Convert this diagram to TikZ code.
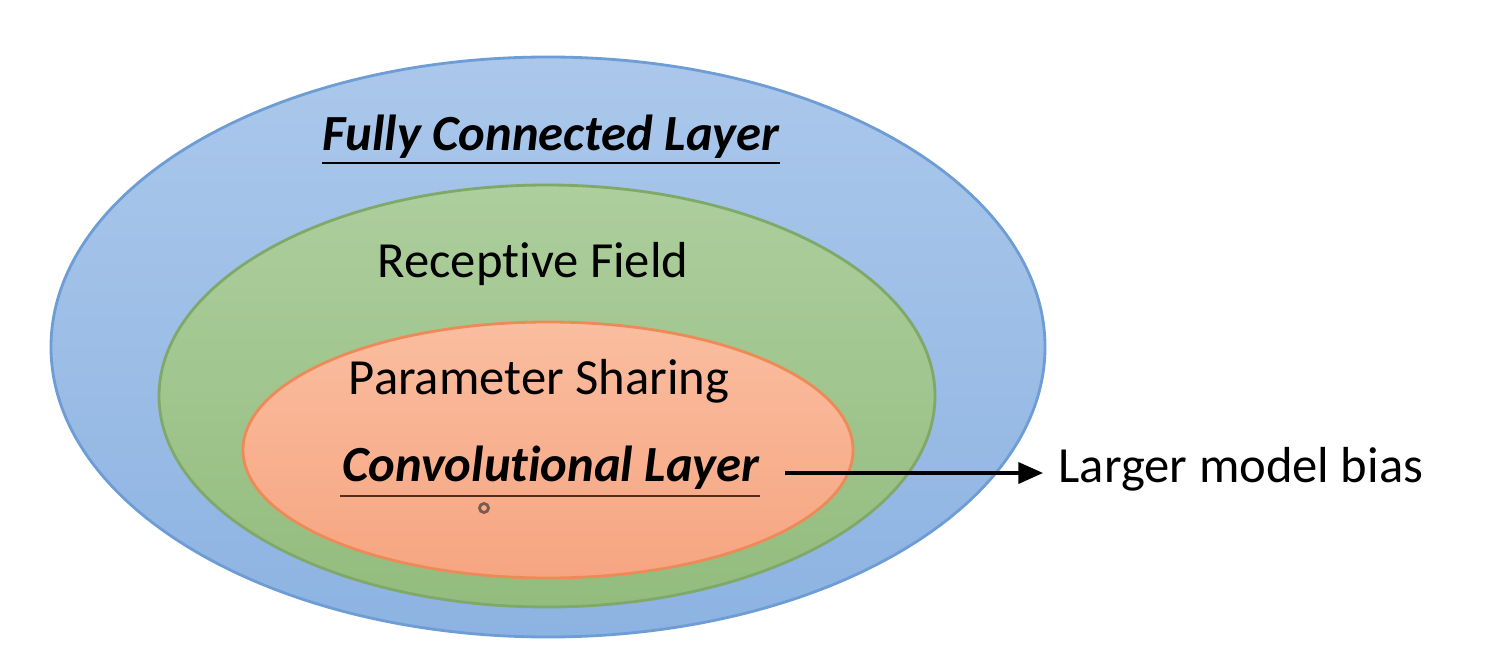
\documentclass[tikz,border=0pt]{standalone}
\usepackage{fontspec}
\setmainfont{Carlito}[Ligatures={NoCommon}]
\usetikzlibrary{arrows.meta}
\definecolor{bluetop}{HTML}{ABC8EB}
\definecolor{bluebot}{HTML}{8DB3E2}
\definecolor{blueline}{HTML}{6E9DD6}
\definecolor{greentop}{HTML}{ADCE9D}
\definecolor{greenbot}{HTML}{93BC7E}
\definecolor{greenline}{HTML}{7FA968}
\definecolor{orangetop}{HTML}{FABD9F}
\definecolor{orangebot}{HTML}{F6A581}
\definecolor{orangeline}{HTML}{EE8A58}
\definecolor{ulinebrown}{HTML}{502D1E}
\definecolor{cursorcol}{HTML}{785A50}
\tikzset{
  lbl/.style={inner sep=0pt, font=\fontsize{14.4}{17}\selectfont},
  bilbl/.style={inner sep=0pt, font=\fontsize{14.4}{17}\selectfont\bfseries\itshape},
  uline/.style={line width=0.7pt},
}
\begin{document}
\begin{tikzpicture}[x=0.01cm,y=-0.01cm]
\useasboundingbox (0,0) rectangle (1489,655);
\fill[white] (0,0) rectangle (1489,655);
% ellipses
\draw[blueline, line width=0.8pt, top color=bluetop, bottom color=bluebot]
  (548,347) ellipse [x radius=497, y radius=290];
\draw[greenline, line width=0.8pt, top color=greentop, bottom color=greenbot]
  (547,396) ellipse [x radius=388, y radius=211];
\draw[orangeline, line width=0.8pt, top color=orangetop, bottom color=orangebot]
  (548,450) ellipse [x radius=305, y radius=128];
% texts
\node[bilbl] (fc) at (551,137) {Fully Connected Layer};
\draw[uline] (322,163) -- (780,163);
\node[lbl] (rf) at (533,264) {Receptive Field};
\node[lbl] (ps) at (539,381) {Parameter Sharing};
\node[bilbl] (cl) at (551,468) {Convolutional Layer};
\draw[uline, ulinebrown] (340,496) -- (760,496);
\node[lbl, anchor=west] (lb) at (1058,469) {Larger model bias};
\coordinate (as) at (785,473);
\draw[line width=0.9pt, shorten >=0.15cm, -{Stealth[length=7pt,width=6pt,inset=0pt]}] (as) -- (lb.west |- as);
% cursor mark
\draw[cursorcol, line width=0.8pt] (484,508) circle [radius=4.5];
\end{tikzpicture}
\end{document}
